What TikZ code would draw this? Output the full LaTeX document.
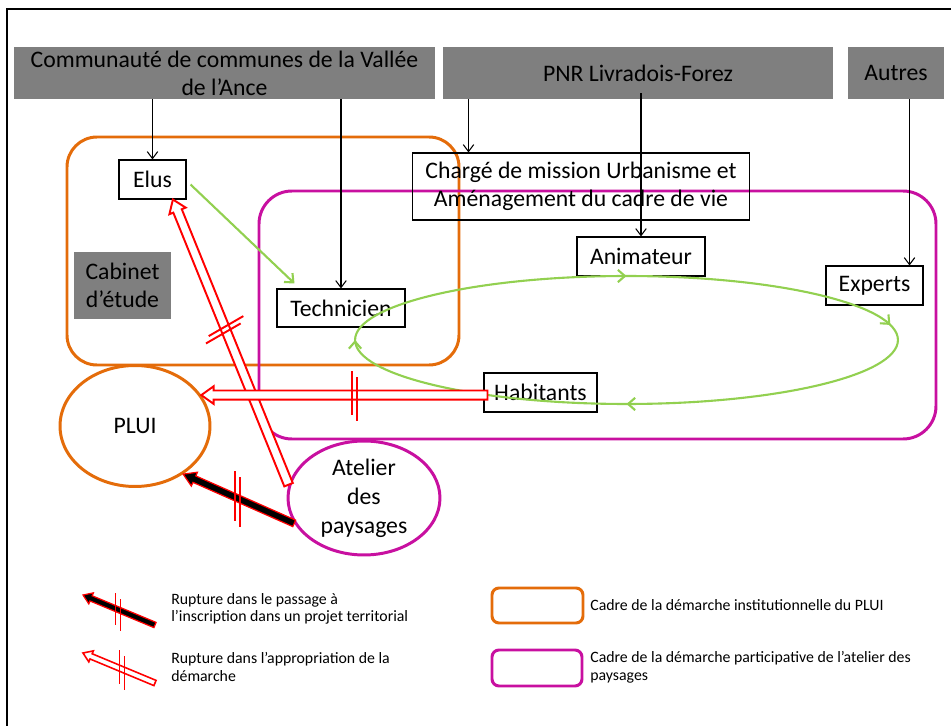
\documentclass[tikz,border=0pt]{standalone}
\usepackage{fontspec}
\setmainfont{Carlito}
\usetikzlibrary{positioning,shapes.geometric,arrows.meta,calc,decorations.markings}

\definecolor{frameorange}{RGB}{228,108,10}
\definecolor{framemagenta}{RGB}{200,16,160}
\definecolor{loopgreen}{RGB}{146,208,80}
\definecolor{headgray}{RGB}{127,127,127}

% two short red strokes across a rupture arrow
\newcommand{\rupture}[3]{%
  \begin{scope}[shift={(#1)}, rotate=#2]
    \draw[breakline] (-2.5,-#3) -- (-2.5,#3-4);
    \draw[breakline] (2.5,-#3+6) -- (2.5,#3+2);
  \end{scope}}

\begin{document}
\begin{tikzpicture}[x=0.02cm, y=-0.02cm,
  every node/.style={font=\fontsize{13.5}{16}\selectfont},
  header/.style={fill=headgray, inner sep=0, align=center},
  role/.style={draw, line width=0.6pt, inner sep=0, align=center},
  bubble/.style={ellipse, line width=1.7pt, inner sep=0, align=center},
  link/.style={line width=0.6pt, -{Straight Barb[length=4pt,width=6pt]}},
  greenlink/.style={loopgreen, line width=1.2pt, -{Straight Barb[length=4pt,width=7pt]}},
  greenloop/.style={loopgreen, line width=1.2pt, decoration={markings,
      mark=at position 0.015 with {\arrowreversed{Straight Barb[length=4pt,width=7pt]}},
      mark=at position 0.25 with {\arrowreversed{Straight Barb[length=4pt,width=7pt]}},
      mark=at position 0.5 with {\arrowreversed{Straight Barb[length=4pt,width=7pt]}},
      mark=at position 0.75 with {\arrowreversed{Straight Barb[length=4pt,width=7pt]}}},
    postaction={decorate}},
  blockarrow/.style n args={3}{to path={
      ($(\tikztostart)!#1!90:(\tikztotarget)$)
      -- ($(\tikztotarget)!#3!(\tikztostart)!#1!90:(\tikztotarget)$)
      -- ($(\tikztotarget)!#3!(\tikztostart)!#2!90:(\tikztotarget)$)
      -- (\tikztotarget)
      -- ($(\tikztotarget)!#3!(\tikztostart)!#2!-90:(\tikztotarget)$)
      -- ($(\tikztotarget)!#3!(\tikztostart)!#1!-90:(\tikztotarget)$)
      -- ($(\tikztostart)!#1!-90:(\tikztotarget)$) -- cycle}},
  hollowarrow/.style={blockarrow={2.6pt}{5pt}{7pt}, draw=red, fill=white, line width=1.1pt},
  solidarrow/.style={blockarrow={2pt}{4.3pt}{7pt}, draw=red, fill=black, line width=0.7pt},
  hollowkey/.style={blockarrow={1.6pt}{3.4pt}{5pt}, draw=red, fill=white, line width=0.9pt},
  solidkey/.style={blockarrow={1.6pt}{3.4pt}{5pt}, draw=red, fill=black, line width=0.7pt},
  breakline/.style={red, line width=1.1pt},
  legendtext/.style={font=\fontsize{9}{10}\selectfont, inner sep=0, align=left, anchor=west}]

  \useasboundingbox (0,0) rectangle (951,726);
  \draw[line width=1.1pt] (7,726) -- (7,9) -- (951,9);

  % frames
  \draw[frameorange, line width=1.7pt, rounded corners=0.6cm] (67,137) rectangle (459,365);
  \draw[framemagenta, line width=1.7pt, rounded corners=0.66cm] (259,191) rectangle (936,439);

  % partners
  \node[header, minimum width=8.42cm, minimum height=1.04cm] (cc) at (224.5,73) {Communauté de communes de la Vallée\\de l’Ance};
  \node[header, minimum width=7.8cm, minimum height=1.04cm] (pnr) at (638,73) {PNR Livradois-Forez};
  \node[header, minimum width=1.92cm, minimum height=1.04cm] (autres) at (896,73) {Autres};
  \node[header, minimum width=1.94cm, minimum height=1.34cm] (cabinet) at (122.5,285.5) {Cabinet\\d’étude};

  % actors
  \node[role, minimum width=1.34cm, minimum height=0.78cm] (elus) at (152.5,179.5) {Elus};
  \node[role, minimum width=6.76cm, minimum height=1.34cm] (charge) at (581,186.5) {Chargé de mission Urbanisme et\\Aménagement du cadre de vie};
  \node[role, minimum width=2.56cm, minimum height=0.78cm] (anim) at (641,256.5) {Animateur};
  \node[role, minimum width=1.94cm, minimum height=0.78cm] (experts) at (874.5,285.5) {Experts};
  \node[role, minimum width=2.56cm, minimum height=0.76cm] (tech) at (341,308) {Technicien};
  \node[role, minimum width=2.26cm, minimum height=0.78cm] (hab) at (540.5,392.5) {Habitants};

  \node[bubble, draw=frameorange, minimum width=3cm, minimum height=2.42cm] (plui) at (135,426) {PLUI};
  \node[bubble, draw=framemagenta, minimum width=3.04cm, minimum height=2.28cm,
    font=\fontsize{13.5}{16.5}\selectfont] (atelier) at (364,498) {Atelier\\des\\paysages};

  \coordinate (chargein) at ($(charge.north west)+(57,0)$);
  \coordinate (expin) at ($(experts.north east)+(-14,0)$);
  \coordinate (elustip) at ($(elus.south)!0.6!(elus.south east)$);
  \coordinate (habtail) at ($(plui.25 -| hab.west)+(4,0)$);

  \draw[link] (cc.south -| elus.north) -- (elus.north);
  \draw[link] (cc.south -| tech.north) -- (tech.north);
  \draw[link] (pnr.south -| chargein) -- (chargein);
  \draw[link] ($(pnr.south -| anim.north)+(0,-6)$) -- (anim.north);
  \draw[link] (autres.south -| expin) -- (expin);

  % participation loop
  \draw[greenlink] ($(elus.east)+(4,5)$) -- ($(tech.north west)+(18,-5)$);
  \coordinate (loopc) at (626.5,340);
  \draw[greenloop] (loopc) ellipse [x radius=5.43cm, y radius=1.28cm];

  % ruptures
  \draw[hollowarrow] (atelier.170) to (elustip);
  \draw[hollowarrow] (habtail) to (plui.25);
  \draw[solidarrow] (atelier.200) to (plui.-45);
  \coordinate (r1) at ($(atelier.170)!0.545!(elustip)$);
  \coordinate (r2) at ($(habtail)!0.465!(plui.25)$);
  \coordinate (r3) at ($(atelier.200)!0.51!(plui.-45)$);
  \rupture{r1}{-60}{22}
  \rupture{r2}{0}{24}
  \rupture{r3}{0}{27}

  % legend
  \coordinate (k1tail) at (155,625);
  \coordinate (k1tip) at (83,595);
  \coordinate (k2tail) at (155,683);
  \coordinate (k2tip) at (83,653);
  \draw[solidkey] (k1tail) to (k1tip);
  \draw[hollowkey] (k2tail) to (k2tip);
  \coordinate (k1m) at (118,611);
  \coordinate (k2m) at (122,669);
  \rupture{k1m}{0}{18}
  \rupture{k2m}{0}{19}
  \node[legendtext] (k1txt) at (171,609) {Rupture dans le passage à\\l’inscription dans un projet territorial};
  \node[legendtext] (k2txt) at (171,667) {Rupture dans l’appropriation de la\\démarche};

  \draw[frameorange, line width=1.7pt, rounded corners=4pt] (492,588) rectangle (583,623);
  \draw[framemagenta, line width=1.7pt, rounded corners=4pt] (492,650) rectangle (582,686);
  \node[legendtext] (k3txt) at (590,605) {Cadre de la démarche institutionnelle du PLUI};
  \node[legendtext] (k4txt) at (590,667) {Cadre de la démarche participative de l’atelier des\\paysages};
\end{tikzpicture}
\end{document}
